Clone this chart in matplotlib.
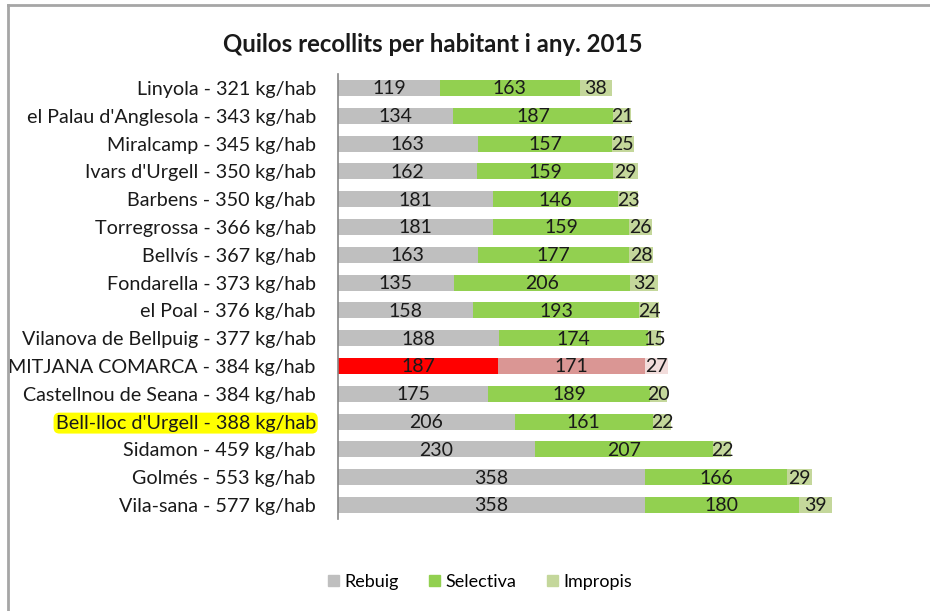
import matplotlib
matplotlib.use("Agg")
import matplotlib.pyplot as plt
from matplotlib.patches import Rectangle

municipis = ["Linyola", "el Palau d'Anglesola", "Miralcamp", "Ivars d'Urgell", "Barbens",
             "Torregrossa", "Bellvís", "Fondarella", "el Poal", "Vilanova de Bellpuig",
             "MITJANA COMARCA", "Castellnou de Seana", "Bell-lloc d'Urgell", "Sidamon",
             "Golmés", "Vila-sana"]
totals = [321, 343, 345, 350, 350, 366, 367, 373, 376, 377, 384, 384, 388, 459, 553, 577]
rebuig = [119, 134, 163, 162, 181, 181, 163, 135, 158, 188, 187, 175, 206, 230, 358, 358]
selectiva = [163, 187, 157, 159, 146, 159, 177, 206, 193, 174, 171, 189, 161, 207, 166, 180]
impropis = [38, 21, 25, 29, 23, 26, 28, 32, 24, 15, 27, 20, 22, 22, 29, 39]
series_names = ["Rebuig", "Selectiva", "Impropis"]
title = "Quilos recollits per habitant i any. 2015"

labels = [f"{m} - {t} kg/hab" for m, t in zip(municipis, totals)]

plt.rcParams['font.family'] = ['Lato', 'DejaVu Sans']

W, H = 930, 611
fig = plt.figure(figsize=(W / 100, H / 100), dpi=100)

# frame lines (top & left) of the cropped chart area
fig.add_artist(plt.Line2D([8 / W, 1], [1 - 5 / H, 1 - 5 / H], color="#a6a6a6", lw=2))
fig.add_artist(plt.Line2D([8 / W, 8 / W], [0, 1 - 5 / H], color="#a6a6a6", lw=2))

row_px = 27.8
n = len(municipis)
ax_top = 88 - row_px / 2
ax_h = row_px * n
ax_left = 338
units = 600
ax_w = units * 0.857
ax = fig.add_axes([ax_left / W, 1 - (ax_top + ax_h) / H, ax_w / W, ax_h / H])

ypos = list(range(n))
cols_normal = ["#bfbfbf", "#92d050", "#c4d79b"]
cols_avg = ["#ff0000", "#da9694", "#f2dcdb"]
data = [rebuig, selectiva, impropis]
bh = 0.58

left = [0] * n
for k, vals in enumerate(data):
    colors = [cols_avg[k] if municipis[i] == "MITJANA COMARCA" else cols_normal[k] for i in range(n)]
    bars = ax.barh(ypos, vals, left=left, height=bh, color=colors, label=series_names[k], linewidth=0)
    for i, (b, v) in enumerate(zip(bars, vals)):
        ax.text(left[i] + v / 2, i + 0.03, str(v), ha="center", va="center", fontsize=14, color="#1a1a1a")
    left = [l + v for l, v in zip(left, vals)]

ax.set_xlim(0, units)
ax.set_ylim(n - 0.5, -0.5)
ax.set_yticks(ypos)
ax.set_yticklabels(labels, fontsize=14.2, color="#1a1a1a")
ax.tick_params(axis="y", length=0, pad=16)
ax.set_xticks([])
for s in ["top", "right", "bottom"]:
    ax.spines[s].set_visible(False)
ax.spines["left"].set_color("#868686")
ax.spines["left"].set_linewidth(1.2)

for lbl in ax.get_yticklabels():
    if lbl.get_text().startswith("Bell-lloc"):
        lbl.set_bbox(dict(boxstyle="round,pad=0.1,rounding_size=0.3", facecolor="#ffff00", edgecolor="none"))

fig.text(433 / W, 1 - 44 / H, title, ha="center", va="center", fontsize=17.3, fontweight="bold", color="#1a1a1a")

handles = [Rectangle((0, 0), 1, 1, color=c) for c in cols_normal]
fig.legend(handles, series_names, loc="center", bbox_to_anchor=(480 / W, 1 - 582 / H), ncol=3,
           frameon=False, fontsize=13, handlelength=0.6, handleheight=0.6, handletextpad=0.3,
           columnspacing=1.7)

fig.savefig("out.png", dpi=100, facecolor="white")
